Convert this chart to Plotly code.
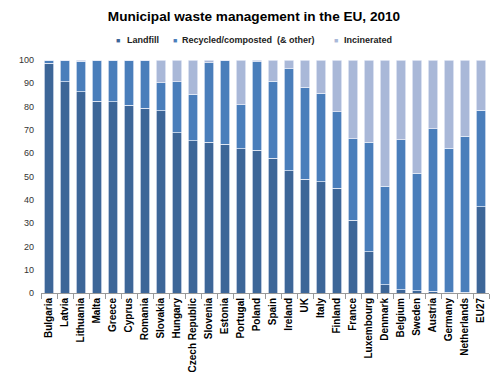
import plotly.graph_objects as go

countries = ["Bulgaria", "Latvia", "Lithuania", "Malta", "Greece", "Cyprus", "Romania",
             "Slovakia", "Hungary", "Czech Republic", "Slovenia", "Estonia", "Portugal",
             "Poland", "Spain", "Ireland", "UK", "Italy", "Finland", "France", "Luxembourg",
             "Denmark", "Belgium", "Sweden", "Austria", "Germany", "Netherlands", "EU27"]
landfill = [98.6, 90.7, 86.4, 82.3, 82.0, 80.6, 79.4, 78.3, 68.8, 65.4, 64.6, 63.9, 61.9,
            61.3, 57.9, 52.5, 48.8, 47.8, 44.9, 31.2, 17.8, 3.5, 1.4, 1.0, 0.7, 0.4, 0.4, 37.0]
recycled = [1.4, 9.3, 13.1, 17.7, 18.0, 19.4, 20.6, 11.9, 21.9, 19.8, 34.3, 36.1, 18.8,
            38.0, 33.0, 43.8, 39.5, 38.0, 32.9, 34.9, 47.0, 42.3, 64.4, 50.4, 69.7, 61.8, 66.8, 41.4]
incinerated = [0, 0, 0.5, 0, 0, 0, 0, 9.8, 9.3, 14.8, 1.1, 0, 19.3, 0.7, 9.1, 3.7, 11.7,
               14.2, 22.2, 33.9, 35.2, 54.2, 34.2, 48.6, 29.6, 37.8, 32.8, 21.6]
series_names = ["Landfill", "Recycled/composted  (&amp; other)", "Incinerated"]
y_ticks = list(range(0, 101, 10))

colors = ["#3D6698", "#4A7EBB", "#A9B8D8"]
fig = go.Figure()
for name, vals, c in zip(series_names, [landfill, recycled, incinerated], colors):
    fig.add_trace(go.Bar(x=countries, y=vals, name=name, marker_color=c,
                         marker_line=dict(color="rgba(235,240,250,0.9)", width=0.8),
                         showlegend=False))

# compact legend (small square key next to bold label), like the original
legend_marker_x = [0.1722, 0.3002, 0.6578]
legend_text_x = [0.1870, 0.3113, 0.6711]
legend_y = 1.0858
for name, c, mx, tx in zip(series_names, colors, legend_marker_x, legend_text_x):
    fig.add_annotation(xref="paper", yref="paper", x=mx, y=legend_y, text="■",
                       showarrow=False, xanchor="center", yanchor="middle",
                       font=dict(size=7, color=c))
    fig.add_annotation(xref="paper", yref="paper", x=tx, y=legend_y, text="<b>" + name + "</b>",
                       showarrow=False, xanchor="left", yanchor="middle",
                       font=dict(size=9, color="#222"))

fig.update_layout(
    barmode="stack", bargap=0.4,
    width=492, height=377,
    margin=dict(l=28, r=11, t=52, b=92),
    paper_bgcolor="white", plot_bgcolor="white",
    showlegend=False,
    font=dict(family="Liberation Sans, Arial", size=10, color="black"),
    title=dict(text="<b>Municipal waste management in the EU, 2010</b>",
               x=0.5, xanchor="center", yref="container", y=0.979, yanchor="middle",
               font=dict(size=13.6, color="black")),
    xaxis=dict(tickangle=-90, showline=True, linecolor="#999", linewidth=1,
               ticks="outside", tickson="boundaries", ticklen=5, tickcolor="#999",
               tickfont=dict(size=10, family="Liberation Sans, Arial"),
               tickprefix="<b>", ticksuffix="</b>", showgrid=False),
    yaxis=dict(range=[0, 100], tickvals=y_ticks, showgrid=False, zeroline=False,
               showline=False, ticks="", ticklabelstandoff=6,
               tickfont=dict(size=9, color="#333")),
)
fig.write_html("out.html")
